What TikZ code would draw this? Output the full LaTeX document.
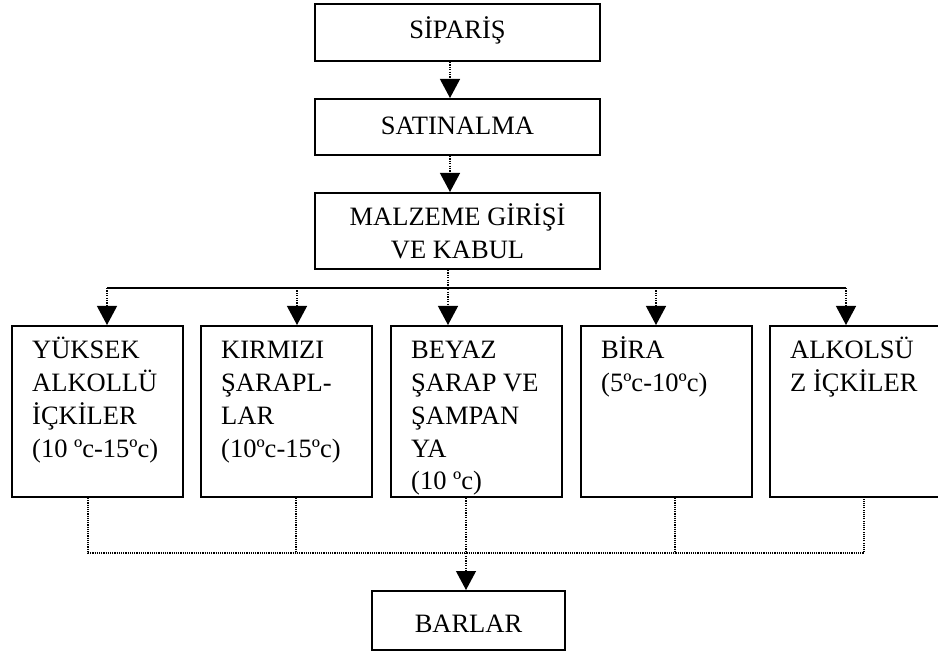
\documentclass[tikz,border=0pt]{standalone}
\usepackage{fontspec}
\setmainfont{Liberation Serif}
\usetikzlibrary{arrows.meta}
\newcommand\chartfont{\fontsize{26.5}{32.7}\selectfont}
\begin{document}
\begin{tikzpicture}[x=1pt,y=-1pt,
  box/.style={draw, line width=2pt, inner sep=0pt, font=\chartfont},
  topbox/.style={box, minimum width=285pt, align=center},
  item/.style={box, minimum width=171pt, minimum height=171pt},
  itemtext/.style={inner sep=0pt, anchor=base west, font=\chartfont},
  flow/.style={line width=1.2pt, dash pattern=on 1.2pt off 1.2pt,
    -{Triangle[width=20pt,length=19pt]}},
  bus/.style={line width=1.8pt},
  dotline/.style={line width=1.1pt, dash pattern=on 1.1pt off 1.1pt}]
\fill[white] (0,0) rectangle (938,652);
\useasboundingbox (0,0) rectangle (938,652);
\clip (0,0) rectangle (938,652);

% purchasing chain
\node[topbox, minimum height=57pt, text height=12pt, text depth=0pt] (sip) at (457.5,32.5) {SİPARİŞ};
\node[topbox, minimum height=56pt, text height=16pt, text depth=0pt] (sat) at (457.5,127) {SATINALMA};
\node[topbox, minimum height=76pt] (mal) at (457.5,231) {MALZEME GİRİŞİ\\VE KABUL};

\draw[flow] ([xshift=-7.5pt]sip.south) -- ([xshift=-7.5pt]sat.north);
\draw[flow] ([xshift=-7.5pt]sat.south) -- ([xshift=-7.5pt]mal.north);

% storage groups
\node[item] (c1) at (97.5,411.5) {};
\node[item] (c2) at (286.5,411.5) {};
\node[item] (c3) at (476.5,411.5) {};
\node[item] (c4) at (666.5,411.5) {};
\node[item, minimum width=176pt] (c5) at (858,411.5) {};

\node[itemtext] (t1) at ([shift={(21,34)}]c1.north west)
  {\parbox[t]{150pt}{YÜKSEK\\ALKOLLÜ\\İÇKİLER\\(10 ºc-15ºc)}};
\node[itemtext] (t2) at ([shift={(21,34)}]c2.north west)
  {\parbox[t]{150pt}{KIRMIZI\\ŞARAPL-\\LAR\\(10ºc-15ºc)}};
\node[itemtext] (t3) at ([shift={(21,34)}]c3.north west)
  {\parbox[t]{150pt}{BEYAZ\\ŞARAP VE\\ŞAMPAN\\YA\\(10 ºc)}};
\node[itemtext] (t4) at ([shift={(21,34)}]c4.north west)
  {\parbox[t]{150pt}{BİRA\\(5ºc-10ºc)}};
\node[itemtext] (t5) at ([shift={(21,34)}]c5.north west)
  {\parbox[t]{150pt}{ALKOLSÜ\\Z İÇKİLER}};

% distribution bus
\coordinate (b1) at (107,288);
\coordinate (b2) at (297,288);
\coordinate (m)  at (448,288);
\coordinate (b4) at (656,288);
\coordinate (b5) at (846,288);
\draw[bus] (b1) -- (b5);
\draw[flow] (b1) -- (b1 |- c1.north);
\draw[flow] (b2) -- (b2 |- c2.north);
\draw[flow] (mal.south -| m) -- (m |- c3.north);
\draw[flow] (b4) -- (b4 |- c4.north);
\draw[flow] (b5) -- (b5 |- c5.north);

% bars
\node[box, minimum width=193pt, minimum height=59pt, text height=23pt, text depth=0pt] (bar) at (468.5,620.5) {BARLAR};

\coordinate (j1) at (88,553);
\coordinate (j2) at (296,553);
\coordinate (j3) at (466,553);
\coordinate (j4) at (675,553);
\coordinate (j5) at (864,553);
\draw[dotline] (c1.south -| j1) -- (j1) -- (j5) -- (c5.south -| j5);
\draw[dotline] (c2.south -| j2) -- (j2);
\draw[dotline] (c4.south -| j4) -- (j4);
\draw[flow] (c3.south -| j3) -- (j3 |- bar.north);
\end{tikzpicture}
\end{document}
